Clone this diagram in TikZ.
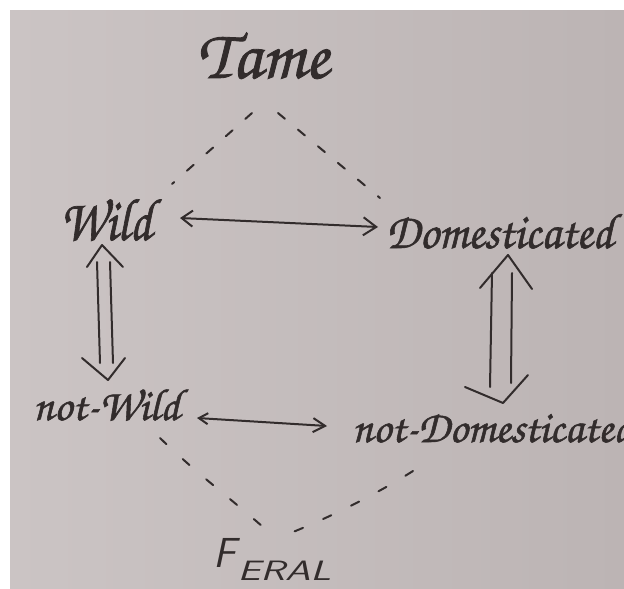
\documentclass[tikz,border=0pt]{standalone}
\usepackage{fontspec}
\newfontfamily\hand[FakeBold=1.2]{TeX Gyre Chorus}
\usetikzlibrary{arrows.meta,calc}
\definecolor{paper}{RGB}{203,196,196}
\definecolor{paperdark}{RGB}{188,180,180}
\definecolor{ink}{RGB}{50,44,44}
\begin{document}
\begin{tikzpicture}[x=1pt,y=-1pt,
  lbl/.style={anchor=base west, inner sep=0pt, text=ink},
  inkline/.style={draw=ink, line width=2pt, line cap=round, line join=round},
  twohead/.style={inkline, {Straight Barb[length=11pt,width=16pt]}-{Straight Barb[length=13pt,width=18pt]}},
  twoheadsmall/.style={inkline, {Straight Barb[length=9pt,width=11pt]}-{Straight Barb[length=12pt,width=14pt]}},
  dashA/.style={inkline, dash pattern=on 9pt off 17pt},
  dashB/.style={inkline, dash pattern=on 9pt off 22pt},
  ]
\useasboundingbox (0,0) rectangle (624,589);
\fill[white] (0,0) rectangle (624,589);
\shade[left color=paper, right color=paperdark] (10,10) rectangle (624,589);
\begin{scope}
\clip (10,10) rectangle (624,589);
% labels
\node[lbl, font=\hand\fontsize{70}{70}\selectfont] (tame) at (197,78) {Tame};
\node[lbl, font=\hand\fontsize{60}{60}\selectfont] (wild) at (60,240) {\scalebox{0.85}[1]{Wild}};
\node[lbl, font=\hand\fontsize{50}{50}\selectfont] (dom) at (386,248) {\scalebox{0.95}[1]{Domesticated}};
\node[lbl, font=\hand\fontsize{45}{45}\selectfont] (nwild) at (33,420) {not-Wild};
\node[lbl, font=\hand\fontsize{45}{45}\selectfont] (ndom) at (352,442) {not-Domesticated};
\node[lbl, font=\sffamily\slshape] (feral) at (213,567) {\fontsize{42}{42}\selectfont F\kern2pt\raisebox{-13pt}{\fontsize{28}{28}\selectfont\scalebox{1.45}[1]{ERAL}}};
% connector ends
\coordinate (a1) at (180,218);
\coordinate (a2) at (378,227);
\coordinate (b1) at (197,418);
\coordinate (b2) at (327,426);
\coordinate (t1) at (252,113);
\coordinate (t2) at (172,184);
\coordinate (t3) at (278,113);
\coordinate (t4) at (380,198);
\coordinate (f1) at (160,438);
\coordinate (f2) at (263,527);
\coordinate (f3) at (293,532);
\coordinate (f4) at (413,471);
\coordinate (wU) at (102,245);
\coordinate (wD) at (108,380);
\coordinate (dU) at (508,255);
\coordinate (dD) at (503,403);
% horizontal arrows
\draw[twohead] (a1) -- (a2);
\draw[twoheadsmall] (b1) -- (b2);
% dashed lines
\draw[dashA] (t1) -- (t2);
\draw[dashA] (t3) -- (t4);
\draw[dashB] (f1) .. controls (195,472) and (230,498) .. (f2);
\draw[dashB] (f4) .. controls (375,495) and (330,517) .. (f3);
% left double arrow
\draw[inkline] ($(wU)+(-15,22)$) -- (wU) -- ($(wU)+(21,22)$);
\draw[inkline] ($(wD)+(-26,-22)$) -- (wD) -- ($(wD)+(17,-22)$);
\draw[inkline] ($(wU)+(-5,17)$) -- ($(wD)+(-8,-17)$);
\draw[inkline] ($(wU)+(8,17)$) -- ($(wD)+(5,-17)$);
% right double arrow
\draw[inkline] ($(dU)+(-28,33)$) -- (dU) -- ($(dU)+(24,34)$);
\draw[inkline] ($(dD)+(-38,-16)$) -- (dD) -- ($(dD)+(25,-28)$);
\draw[inkline] ($(dU)+(-16,18)$) -- ($(dD)+(-13,-16)$);
\draw[inkline] ($(dU)+(4,18)$) -- ($(dD)+(8,-20)$);
\end{scope}
\end{tikzpicture}
\end{document}
